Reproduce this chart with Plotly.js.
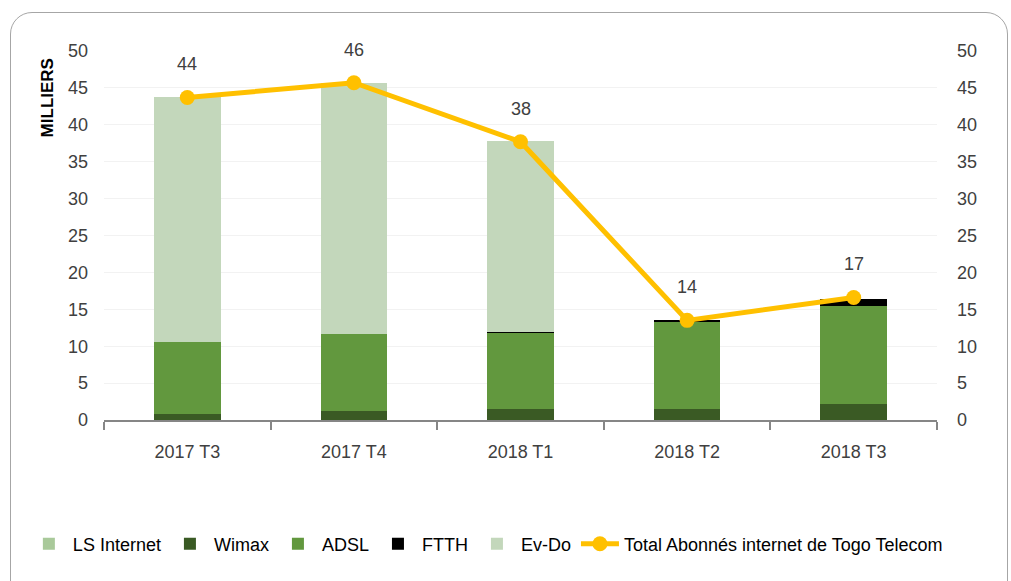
<!DOCTYPE html>
<html>
<head>
<meta charset="utf-8">
<script src="https://cdn.plot.ly/plotly-3.0.1.min.js"></script>
<style>
  body { margin: 0; overflow: hidden; background: #fff; }
  #frame { position: absolute; left: 10px; top: 12px; width: 996px; height: 620px;
           border: 1.5px solid #a6a6a6; border-radius: 22px; }
  #chart { position: absolute; left: 0; top: 0; width: 1011px; height: 581px; }
</style>
</head>
<body>
<div id="frame"></div>
<div id="chart"></div>
<script>
// Quarters
var quarters = ['2017 T3', '2017 T4', '2018 T1', '2018 T2', '2018 T3'];

// Abonnés par technologie (milliers)
var lsInternet = [0, 0, 0, 0, 0];
var wimax = [0.8, 1.2, 1.5, 1.5, 2.2];
var adsl = [9.8, 10.5, 10.3, 11.8, 13.3];
var ftth = [0, 0, 0.15, 0.2, 0.95];
var evdo = [33.1, 34.0, 25.8, 0, 0];
var total = [43.7, 45.7, 37.7, 13.5, 16.6];

var font = 'Liberation Sans, Arial, sans-serif';
var textColor = '#404040';

function barTrace(name, values, color) {
    return {
        x: quarters, y: values, name: name, type: 'bar',
        marker: { color: color, line: { width: 0 } },
        hoverinfo: 'name+y'
    };
}

var traces = [
    barTrace('LS Internet', lsInternet, '#a9c99a'),
    barTrace('Wimax', wimax, '#3a5a24'),
    barTrace('ADSL', adsl, '#62983e'),
    barTrace('FTTH', ftth, '#000000'),
    barTrace('Ev-Do', evdo, '#c3d7bb'),
    {
        x: quarters, y: total, name: 'Total Abonnés internet de Togo Telecom',
        type: 'scatter', mode: 'lines+markers', yaxis: 'y2',
        line: { color: '#ffc000', width: 5 },
        marker: { color: '#ffc000', size: 15 }
    }
];

// value labels above the line points
var labels = quarters.map(function (q, i) {
    return {
        x: q, y: total[i], yref: 'y2', text: String(Math.round(total[i])),
        showarrow: false, yshift: 33, font: { size: 18, color: textColor, family: font }
    };
});
labels.push({
    xref: 'paper', yref: 'paper', x: -0.068, y: 0.985, xanchor: 'center', yanchor: 'top',
    text: '<b>MILLIERS</b>', textangle: -90, showarrow: false,
    font: { size: 17, color: '#000', family: font }
});

var yCommon = {
    range: [0, 50], dtick: 5, showline: false, zeroline: false,
    gridcolor: '#f2f2f2', gridwidth: 1,
    tickfont: { size: 18, color: textColor, family: font }
};

Plotly.newPlot('chart', traces, {
    width: 1011, height: 581,
    margin: { l: 104, r: 74, t: 51, b: 161, autoexpand: false },
    paper_bgcolor: 'rgba(0,0,0,0)', plot_bgcolor: 'rgba(0,0,0,0)',
    barmode: 'stack', bargap: 0.6,
    showlegend: true,
    legend: {
        orientation: 'h', x: -0.095, y: -0.336, xanchor: 'left', yanchor: 'middle',
        font: { size: 18, color: '#000', family: font }, traceorder: 'normal',
        itemwidth: 38
    },
    xaxis: {
        type: 'category', showline: true, linecolor: '#868686', linewidth: 2,
        ticks: 'outside', tickson: 'boundaries', ticklen: 8, tickcolor: '#868686', tickwidth: 2,
        showgrid: false, ticklabelstandoff: 14,
        tickfont: { size: 18, color: textColor, family: font }
    },
    yaxis: Object.assign({}, yCommon, { ticklabelstandoff: 15 }),
    yaxis2: Object.assign({}, yCommon, { overlaying: 'y', side: 'right', showgrid: false, ticklabelstandoff: 19 }),
    annotations: labels
}, { displayModeBar: false });
</script>
</body>
</html>
